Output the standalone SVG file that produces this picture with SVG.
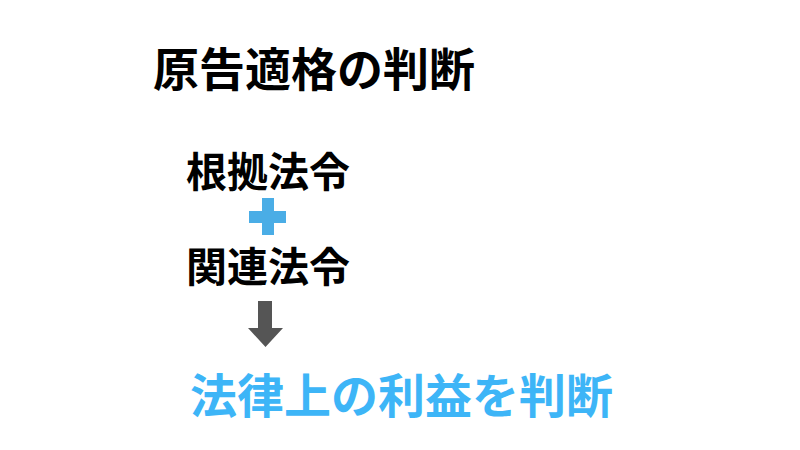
<svg xmlns="http://www.w3.org/2000/svg" width="800" height="450" viewBox="0 0 800 450">
<style>
.t{font-family:"Noto Sans CJK JP","Noto Sans CJK SC",sans-serif;font-weight:bold;fill:#000}
.b{fill:#3db5f7}
</style>
<rect width="800" height="450" fill="#fff"/>
<g id="title"><text class="t" x="153" y="86" font-size="46">原告適格の判断</text></g>
<g id="base-law"><text class="t" x="186" y="187" font-size="41">根拠法令</text></g>
<g id="plus"><rect x="262" y="198" width="12" height="37" fill="#4aade6"/><rect x="249" y="211" width="37" height="12" fill="#4aade6"/></g>
<g id="related-law"><text class="t" x="186" y="282" font-size="41">関連法令</text></g>
<g id="connectors"><path d="M258 301H272V328H283L265.5 347L248 328H258Z" fill="#555"/></g>
<g id="result"><text class="t b" x="190" y="413" font-size="47">法律上の利益を判断</text></g>
</svg>
